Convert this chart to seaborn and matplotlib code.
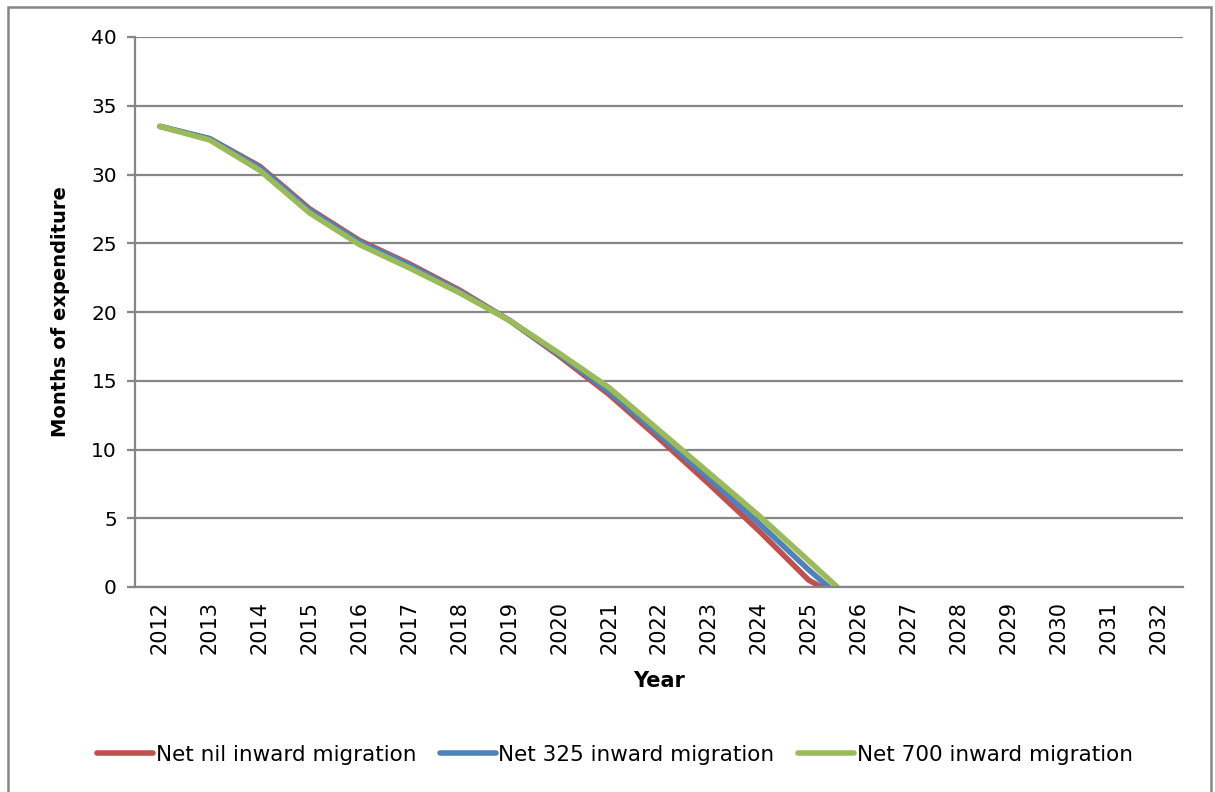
import numpy as np
import pandas as pd
import matplotlib
matplotlib.use("Agg")
import matplotlib.pyplot as plt
from matplotlib.patches import Rectangle
import seaborn as sns

# Projected reserves, in months of expenditure, under three migration scenarios
years = [2012, 2013, 2014, 2015, 2016, 2017, 2018, 2019, 2020, 2021, 2022, 2023, 2024, 2025]
nil_values = [33.5, 32.6, 30.6, 27.5, 25.2, 23.5, 21.6, 19.4, 16.8, 14.0, 10.8, 7.5, 4.1, 0.5]
m325_values = [33.5, 32.6, 30.5, 27.4, 25.1, 23.4, 21.5, 19.4, 16.9, 14.2, 11.1, 7.9, 4.65, 1.25]
m700_values = [33.5, 32.5, 30.3, 27.2, 24.9, 23.2, 21.4, 19.4, 17.0, 14.5, 11.4, 8.3, 5.2, 1.9]
# year (fractional) at which each scenario's reserve is exhausted
exhausted_at = {"Net nil inward migration": 2025.25,
                "Net 325 inward migration": 2025.4,
                "Net 700 inward migration": 2025.57}
axis_years = list(range(2012, 2033))

series = {
    "Net nil inward migration": nil_values,
    "Net 325 inward migration": m325_values,
    "Net 700 inward migration": m700_values,
}
rows = []
for name, vals in series.items():
    for y, v in zip(years, vals):
        rows.append({"Year": y, "Months": v, "Scenario": name})
    rows.append({"Year": exhausted_at[name], "Months": 0.0, "Scenario": name})
df = pd.DataFrame(rows)

sns.set_theme(style="white")
plt.rcParams["font.family"] = ["DejaVu Sans"]
plt.rcParams["text.color"] = "black"
plt.rcParams["axes.labelcolor"] = "black"

W, H = 1215, 792
fig = plt.figure(figsize=(W / 100, H / 100), dpi=100)
ax = fig.add_axes([135 / W, 1 - 587 / H, (1183 - 135) / W, 550 / H])

palette = {"Net nil inward migration": "#C0504D",
           "Net 325 inward migration": "#4F81BD",
           "Net 700 inward migration": "#9BBB59"}
sns.lineplot(data=df, x="Year", y="Months", hue="Scenario", palette=palette,
             linewidth=4.0, ax=ax, legend=False, sort=True,
             solid_capstyle="round", solid_joinstyle="round")

grid_c = "#868686"
ax.set_ylim(0, 40)
ax.set_yticks(range(0, 41, 5))
ax.yaxis.grid(True, color=grid_c, linewidth=1.6)
ax.set_axisbelow(True)
ax.set_xlim(axis_years[0] - 0.5, axis_years[-1] + 0.5)
ax.set_xticks(axis_years)
ax.set_xticklabels([str(y) for y in axis_years], rotation=90, fontsize=15)
ax.set_xticks(np.arange(axis_years[0] - 0.5, axis_years[-1] + 0.6, 1), minor=True)
ax.tick_params(axis="x", which="major", length=0, pad=10, labelcolor="black")
ax.tick_params(axis="x", which="minor", length=6, width=1.6, color=grid_c, direction="out")
ax.tick_params(axis="y", which="major", length=6, width=1.6, color=grid_c,
               direction="out", labelsize=14.5, labelcolor="black", pad=7, left=True)

for s in ["top", "right"]:
    ax.spines[s].set_visible(False)
for s in ["left", "bottom"]:
    ax.spines[s].set_color(grid_c)
    ax.spines[s].set_linewidth(1.6)

ax.set_ylabel("Months of expenditure", fontsize=14, fontweight="bold", labelpad=15)
ax.set_xlabel("Year", fontsize=15, fontweight="bold", labelpad=12)

handles = [plt.Line2D([], [], color=c, linewidth=4.0, solid_capstyle="round")
           for c in palette.values()]
fig.legend(handles, list(palette.keys()), loc="center", ncol=3, frameon=False,
           bbox_to_anchor=(615 / W, 1 - 755 / H), fontsize=15.5,
           handlelength=2.6, handletextpad=0.12, columnspacing=1.1)

# outer chart border
fig.patches.append(Rectangle((8 / W, -0.02), (1211 - 8) / W, 1.02 - 7 / H,
                             transform=fig.transFigure, fill=False,
                             edgecolor=grid_c, linewidth=1.8))

fig.savefig("out.png", dpi=100)
